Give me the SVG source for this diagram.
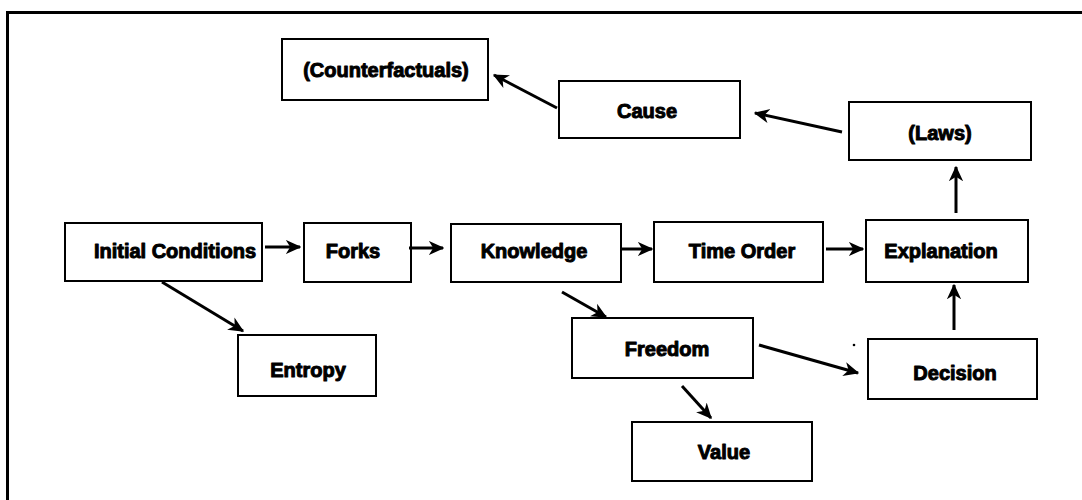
<svg xmlns="http://www.w3.org/2000/svg" width="1082" height="500" viewBox="0 0 1082 500">
  <style>
    .box { fill: #fff; stroke: #000; stroke-width: 2; }
    .lbl { font-family: "Liberation Sans", Arial, sans-serif; font-weight: bold; font-size: 20px; fill: #000; stroke: #000; stroke-width: 1; stroke-linejoin: round; text-anchor: middle; }
    .edge { stroke: #000; stroke-width: 3; fill: none; marker-end: url(#head); }
    .frame { stroke: #000; stroke-width: 3; fill: none; }
  </style>
  <defs>
    <marker id="head" viewBox="0 0 12 12" markerWidth="5.2" markerHeight="5.2" refX="11" refY="6" orient="auto">
      <path d="M0,0.5 L12,6 L0,11.5 L3.5,6 z" fill="#000"/>
    </marker>
  </defs>

  <rect width="1082" height="500" fill="#fff"/>

  <!-- frame: top and left rules only -->
  <path class="frame" d="M7.5,500 L7.5,12.5 L1082,12.5"/>

  <g id="node-counterfactuals">
    <rect class="box" x="282" y="39" width="206" height="61"/>
    <text class="lbl" x="386" y="77">(Counterfactuals)</text>
  </g>
  <g id="node-cause">
    <rect class="box" x="559" y="81" width="181" height="57"/>
    <text class="lbl" x="647" y="118">Cause</text>
  </g>
  <g id="node-laws">
    <rect class="box" x="849" y="102" width="182" height="58"/>
    <text class="lbl" x="940" y="140">(Laws)</text>
  </g>
  <g id="node-initial-conditions">
    <rect class="box" x="65" y="223" width="197" height="58"/>
    <text class="lbl" x="175" y="258">Initial Conditions</text>
  </g>
  <g id="node-forks">
    <rect class="box" x="304" y="223" width="107" height="59"/>
    <text class="lbl" x="353" y="258">Forks</text>
  </g>
  <g id="node-knowledge">
    <rect class="box" x="451" y="224" width="170" height="58"/>
    <text class="lbl" x="534" y="258">Knowledge</text>
  </g>
  <g id="node-time-order">
    <rect class="box" x="654" y="222" width="169" height="60"/>
    <text class="lbl" x="742" y="258">Time Order</text>
  </g>
  <g id="node-explanation">
    <rect class="box" x="866" y="220" width="162" height="62"/>
    <text class="lbl" x="941" y="258">Explanation</text>
  </g>
  <g id="node-entropy">
    <rect class="box" x="238" y="335" width="138" height="61"/>
    <text class="lbl" x="308" y="377">Entropy</text>
  </g>
  <g id="node-freedom">
    <rect class="box" x="572" y="318" width="181" height="60"/>
    <text class="lbl" x="667" y="356">Freedom</text>
  </g>
  <g id="node-decision">
    <rect class="box" x="868" y="339" width="169" height="60"/>
    <text class="lbl" x="955" y="380">Decision</text>
  </g>
  <g id="node-value">
    <rect class="box" x="632" y="422" width="180" height="59"/>
    <text class="lbl" x="724" y="459">Value</text>
  </g>

  <g id="connectors">
    <line class="edge" x1="557" y1="108" x2="494" y2="75"/>
    <line class="edge" x1="842" y1="132" x2="755" y2="113"/>
    <line class="edge" x1="956" y1="213" x2="956" y2="167"/>
    <line class="edge" x1="265" y1="247" x2="300" y2="247"/>
    <line class="edge" x1="409" y1="248" x2="443" y2="248"/>
    <line class="edge" x1="620" y1="249" x2="652" y2="249"/>
    <line class="edge" x1="826" y1="249" x2="863" y2="249"/>
    <line class="edge" x1="162" y1="282" x2="243" y2="331"/>
    <line class="edge" x1="562" y1="292" x2="606" y2="317"/>
    <line class="edge" x1="759" y1="345" x2="858" y2="373"/>
    <line class="edge" x1="682" y1="386" x2="711" y2="418"/>
    <line class="edge" x1="954" y1="330" x2="954" y2="285"/>
  </g>

  <circle cx="854" cy="345" r="1.3" fill="#000"/>
</svg>
